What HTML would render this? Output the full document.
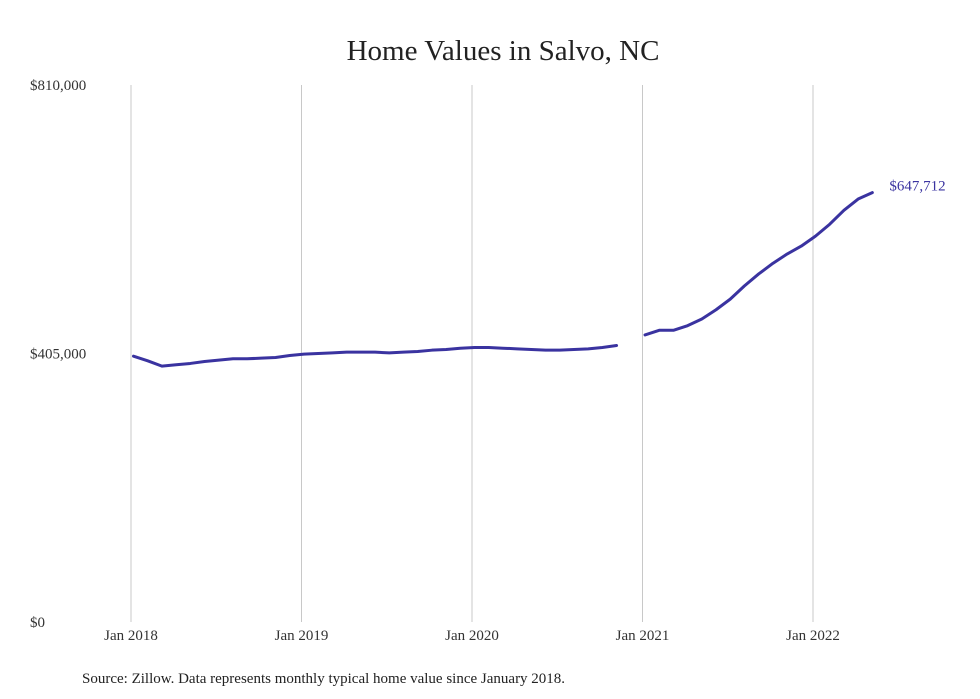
<!DOCTYPE html>
<html><head><meta charset="utf-8"><style>
body{margin:0;background:#fff;}
svg{display:block;font-family:"Liberation Serif",serif;}
</style></head><body>
<svg id="chart" width="980" height="699">
<text x="503" y="60" text-anchor="middle" font-size="29" fill="#222">Home Values in Salvo, NC</text>
<g id="grid"></g>
<g id="series"></g>
<text x="82" y="683" font-size="15" fill="#222">Source: Zillow. Data represents monthly typical home value since January 2018.</text>
</svg>
<script>
const yTicks=[0,405000,810000];
const yTickLabels=["$0","$405,000","$810,000"];
const xTickMonths=[0,12,24,36,48];
const xTickLabels=["Jan 2018","Jan 2019","Jan 2020","Jan 2021","Jan 2022"];
const seg1Months=[0,1,2,3,4,5,6,7,8,9,10,11,12,13,14,15,16,17,18,19,20,21,22,23,24,25,26,27,28,29,30,31,32,33,34];
const seg1Values=[401000,394000,386000,388000,390000,393000,395000,397000,397000,398000,399000,402000,404000,405000,406000,407000,407000,407000,406000,407000,408000,410000,411000,413000,414000,414000,413000,412000,411000,410000,410000,411000,412000,414000,417000];
const seg2Months=[36,37,38,39,40,41,42,43,44,45,46,47,48,49,50,51,52];
const seg2Values=[433000,440000,440000,447000,457000,471000,487000,507000,525000,541000,555000,567000,582000,600000,621000,638000,647712];
const endLabel="$647,712";
const NS="http://www.w3.org/2000/svg";
function xg(m){return 131+m*(812-130)/48;}
function x(m){return 133.5+m*(812-130)/48;}
function y(v){return 622-v/810000*537;}
function mk(tag,attrs,parent){const e=document.createElementNS(NS,tag);for(const k in attrs)e.setAttribute(k,attrs[k]);parent.appendChild(e);return e;}
const grid=document.getElementById('grid'),series=document.getElementById('series');
xTickMonths.forEach((m,i)=>{
 const l=mk('line',{x1:xg(m),x2:xg(m),y1:85,y2:622,stroke:'#c8c8c8','stroke-width':1},grid);
 
 
 const t=mk('text',{x:xg(m),y:640,'text-anchor':'middle','font-size':15,fill:'#333'},grid);
 t.textContent=xTickLabels[i];
 
 
});
yTicks.forEach((v,i)=>{
 const t=mk('text',{x:30,y:y(v)+5,'font-size':15,fill:'#333'},grid);
 t.textContent=yTickLabels[i];
 
 
});
[[seg1Months,seg1Values],[seg2Months,seg2Values]].forEach(([ms,vs])=>{
 const p=mk('polyline',{points:ms.map((m,i)=>x(m)+','+y(vs[i])).join(' '),fill:'none',stroke:'#3a33a0','stroke-width':3,'stroke-linejoin':'round','stroke-linecap':'round'},series);
 
 
});
const lm=seg2Months[seg2Months.length-1],lv=seg2Values[seg2Values.length-1];
const el=mk('text',{x:x(lm)+17,y:y(lv)-2,'font-size':15,fill:'#3a33a0'},series);
el.textContent=endLabel;


</script>
</body></html>
